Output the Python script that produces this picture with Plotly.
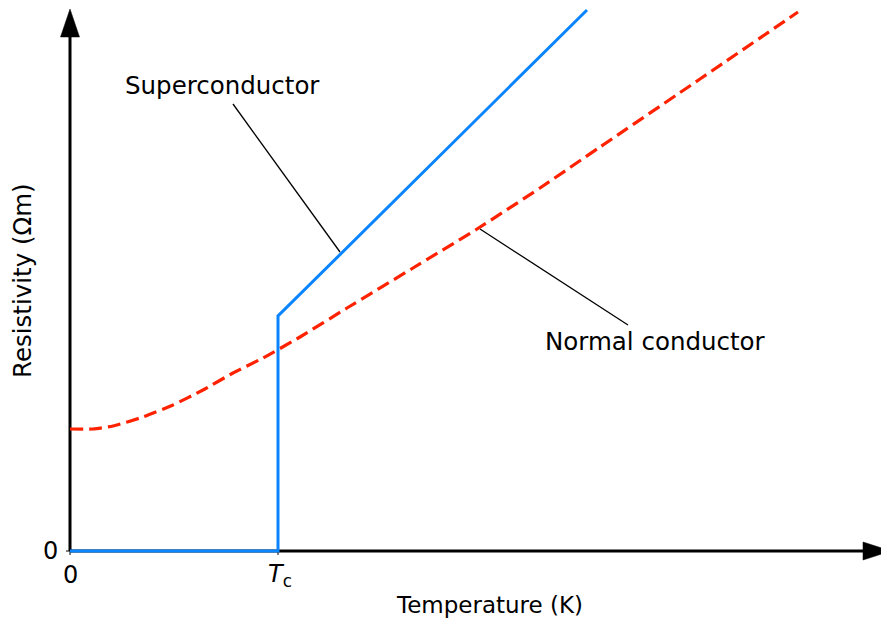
import plotly.graph_objects as go

# Superconductor: zero resistivity below Tc, jump, then linear rise
temp_super = [0, 2.08, 2.08, 5.17]
rho_super = [0, 0, 2.35, 5.41]

# Normal conductor: residual resistivity, smooth rise
temp_normal = [0, 0.23, 0.43, 0.73, 1.03, 1.33, 1.63, 1.93, 2.3, 2.77, 3.43, 4.07, 4.7, 5.3, 6.3, 7.28]
rho_normal = [1.22, 1.22, 1.25, 1.34, 1.46, 1.61, 1.78, 1.93, 2.14, 2.43, 2.83, 3.22, 3.63, 4.04, 4.72, 5.39]

tc = 2.08
x_tick_vals = [0, tc]
x_tick_text = ["0", "<i>T</i><sub>c</sub>"]
y_tick_vals = [0]
y_tick_text = ["0"]

FONT = "DejaVu Sans"
FS_TICK = 24
FS_LABEL = 24.5
FS_XTITLE = 23
FS_YTITLE = 24.5

fig = go.Figure()
fig.add_trace(go.Scatter(x=temp_normal, y=rho_normal, mode="lines",
                         line=dict(color="#ff2200", width=3.2, dash="13px,6px", shape="spline", smoothing=0.5),
                         hoverinfo="skip", showlegend=False))
fig.add_trace(go.Scatter(x=temp_super, y=rho_super, mode="lines",
                         line=dict(color="#0a84ff", width=3),
                         hoverinfo="skip", showlegend=False))

shapes = []
# axes
shapes.append(dict(type="line", x0=0, y0=0, x1=7.95, y1=0, line=dict(color="black", width=3), layer="below"))
shapes.append(dict(type="line", x0=0, y0=0, x1=0, y1=5.16, line=dict(color="black", width=3), layer="below"))
shapes.append(dict(type="path", path="M -0.095,5.14 L 0.095,5.14 L 0,5.42 Z",
                   fillcolor="black", line=dict(color="black", width=0.5), layer="below"))
shapes.append(dict(type="path", path="M 7.93,-0.09 L 7.93,0.09 L 8.21,0 Z",
                   fillcolor="black", line=dict(color="black", width=0.5), layer="below"))
# ticks
for xv in x_tick_vals:
    shapes.append(dict(type="line", x0=xv, y0=0, x1=xv, y1=-0.04, line=dict(color="black", width=1), layer="below"))
for yv in y_tick_vals:
    shapes.append(dict(type="line", x0=0, y0=yv, x1=-0.04, y1=yv, line=dict(color="black", width=1), layer="below"))
# leader lines
shapes.append(dict(type="line", x0=1.63, y0=4.47, x1=2.70, y1=2.99, line=dict(color="black", width=1.3)))
shapes.append(dict(type="line", x0=4.10, y0=3.22, x1=5.58, y1=2.26, line=dict(color="black", width=1.3)))

ann = []
for xv, t in zip(x_tick_vals, x_tick_text):
    ann.append(dict(x=xv + (0.02 if xv else 0), y=-0.24, text=t, showarrow=False,
                    font=dict(family=FONT, size=FS_TICK, color="black"), xanchor="center", yanchor="middle"))
for yv, t in zip(y_tick_vals, y_tick_text):
    ann.append(dict(x=-0.2, y=yv, text=t, showarrow=False,
                    font=dict(family=FONT, size=FS_TICK, color="black"), xanchor="center", yanchor="middle"))
ann.append(dict(x=4.19, y=-0.54, text="Temperature (K)", showarrow=False,
                font=dict(family=FONT, size=FS_XTITLE, color="black"), xanchor="center", yanchor="middle"))
ann.append(dict(x=-0.48, y=2.70, text="Resistivity (Ωm)", showarrow=False, textangle=-90,
                font=dict(family=FONT, size=FS_YTITLE, color="black"), xanchor="center", yanchor="middle"))
ann.append(dict(x=1.52, y=4.66, text="Superconductor", showarrow=False,
                font=dict(family=FONT, size=FS_LABEL, color="black"), xanchor="center", yanchor="middle"))
ann.append(dict(x=5.85, y=2.10, text="Normal conductor", showarrow=False,
                font=dict(family=FONT, size=FS_LABEL, color="black"), xanchor="center", yanchor="middle"))

fig.update_layout(
    width=881, height=619,
    margin=dict(l=0, r=0, t=0, b=0, pad=0),
    paper_bgcolor="white", plot_bgcolor="white",
    xaxis=dict(range=[-0.70, 8.11], visible=False, fixedrange=True),
    yaxis=dict(range=[-0.68, 5.51], visible=False, fixedrange=True),
    shapes=shapes, annotations=ann,
    showlegend=False,
)
fig.write_html("out.html", config={"displayModeBar": False})
